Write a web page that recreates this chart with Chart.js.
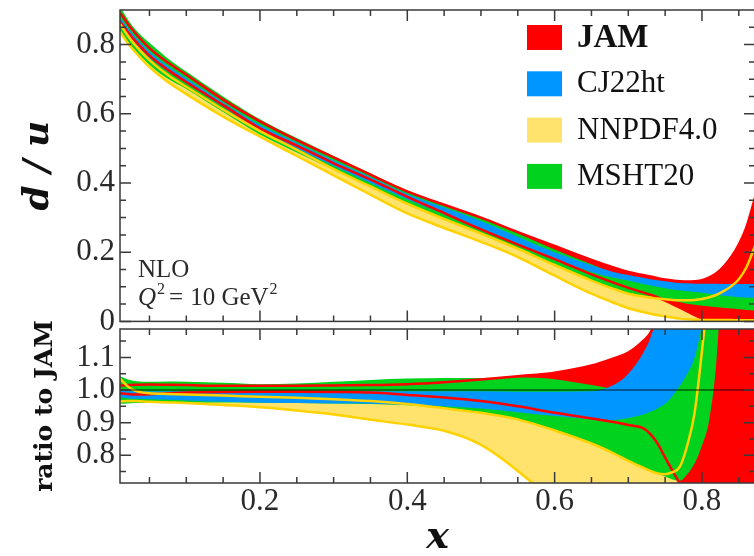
<!DOCTYPE html>
<html>
<head>
<meta charset="utf-8">
<script src="https://cdn.jsdelivr.net/npm/chart.js@4.4.0/dist/chart.umd.min.js"></script>
<style>
  html, body { margin: 0; padding: 0; background: #fff; overflow: hidden; width: 754px; height: 556px; }
  #wrap { position: relative; width: 754px; height: 556px; overflow: hidden; }
  #ratio { position: absolute; left: 0; top: 300px; }
  #main { position: absolute; left: 0; top: -20px; }
</style>
</head>
<body>
<div id="wrap">
  <canvas id="ratio" width="757" height="266"></canvas>
  <canvas id="main" width="757" height="365"></canvas>
</div>
<script>
// x grid shared by all curves
const X = [0.01, 0.02, 0.03, 0.05, 0.075, 0.1, 0.15, 0.2, 0.25, 0.3, 0.35, 0.4, 0.45, 0.5, 0.55, 0.6,
  0.65, 0.68, 0.7, 0.72, 0.73, 0.74, 0.75, 0.76, 0.77, 0.78, 0.79, 0.8, 0.81, 0.82, 0.83, 0.84, 0.85, 0.86, 0.875];

// upper panel: d/u bands (upper / lower edge)
const jamUp = [0.893, 0.862, 0.835, 0.79, 0.748, 0.713, 0.641, 0.578, 0.524, 0.474, 0.424, 0.376, 0.337, 0.3, 0.258, 0.218,
  0.178, 0.156, 0.143, 0.134, 0.13, 0.125, 0.121, 0.118, 0.116, 0.115, 0.116, 0.119, 0.127, 0.14, 0.16, 0.187, 0.222, 0.27, 0.38];
const jamLo = [0.866, 0.838, 0.812, 0.768, 0.727, 0.692, 0.625, 0.558, 0.508, 0.457, 0.41, 0.36, 0.313, 0.266, 0.222, 0.18,
  0.136, 0.112, 0.097, 0.084, 0.077, 0.069, 0.06, 0.05, 0.04, 0.029, 0.018, 0.008, -0.003, -0.015, -0.03, -0.05, -0.07, -0.1, -0.15];
const cjUp = [0.878, 0.85, 0.824, 0.78, 0.738, 0.703, 0.633, 0.568, 0.516, 0.465, 0.417, 0.368, 0.329, 0.29, 0.245, 0.2,
  0.162, 0.143, 0.134, 0.126, 0.122, 0.119, 0.116, 0.113, 0.111, 0.11, 0.109, 0.109, 0.109, 0.109, 0.108, 0.108, 0.108, 0.108, 0.108];
const cjLo = [0.858, 0.83, 0.805, 0.762, 0.722, 0.688, 0.62, 0.553, 0.5, 0.449, 0.4, 0.352, 0.31, 0.268, 0.225, 0.18,
  0.143, 0.126, 0.118, 0.108, 0.104, 0.1, 0.096, 0.092, 0.089, 0.087, 0.085, 0.083, 0.08, 0.077, 0.074, 0.072, 0.07, 0.069, 0.068];
const msUp = [0.91, 0.875, 0.846, 0.805, 0.76, 0.722, 0.65, 0.584, 0.53, 0.478, 0.428, 0.378, 0.339, 0.298, 0.254, 0.208,
  0.165, 0.14, 0.128, 0.118, 0.113, 0.108, 0.104, 0.1, 0.097, 0.094, 0.092, 0.09, 0.089, 0.088, 0.087, 0.086, 0.086, 0.085, 0.085];
const msLo = [0.835, 0.808, 0.785, 0.742, 0.701, 0.672, 0.605, 0.54, 0.488, 0.438, 0.388, 0.339, 0.295, 0.252, 0.208, 0.162,
  0.118, 0.093, 0.08, 0.074, 0.071, 0.068, 0.064, 0.06, 0.055, 0.051, 0.048, 0.045, 0.043, 0.041, 0.039, 0.037, 0.035, 0.033, 0.031];
const nnUp = [0.86, 0.828, 0.8, 0.755, 0.712, 0.678, 0.612, 0.55, 0.496, 0.44, 0.39, 0.34, 0.296, 0.254, 0.21, 0.163,
  0.118, 0.094, 0.08, 0.072, 0.069, 0.066, 0.064, 0.062, 0.061, 0.061, 0.062, 0.065, 0.07, 0.077, 0.088, 0.102, 0.122, 0.155, 0.235];
const nnLo = [0.838, 0.806, 0.78, 0.735, 0.692, 0.657, 0.592, 0.534, 0.478, 0.422, 0.366, 0.312, 0.27, 0.23, 0.186, 0.132,
  0.08, 0.054, 0.038, 0.027, 0.022, 0.018, 0.014, 0.011, 0.008, 0.006, 0.005, 0.004, 0.004, 0.004, 0.004, 0.004, 0.003, 0.003, 0.003];

// lower panel: ratio to JAM (upper / lower edge)
const rJamUp = [1.013, 1.015, 1.016, 1.017, 1.016, 1.015, 1.013, 1.013, 1.013, 1.014, 1.015, 1.018, 1.024, 1.032, 1.042, 1.053,
  1.075, 1.097, 1.115, 1.15, 1.175, 1.23, 1.3, 1.45, 1.6, 1.8, 2.0, 2.3, 2.6, 3.0, 3.4, 4.0, 4.6, 5.5, 7.0];
const rJamLo = [0.99, 0.988, 0.986, 0.987, 0.99, 0.992, 0.994, 0.995, 0.995, 0.994, 0.992, 0.985, 0.977, 0.966, 0.95, 0.93,
  0.913, 0.902, 0.893, 0.883, 0.865, 0.835, 0.793, 0.752, 0.712, 0.66, 0.55, 0.4, 0.2, 0.0, -0.3, -0.6, -1.0, -1.5, -2.0];
const rCjUp = [0.998, 0.997, 0.996, 0.996, 0.996, 0.996, 0.996, 0.996, 0.996, 0.996, 0.996, 0.996, 0.996, 0.996, 0.995, 0.995,
  0.996, 1.015, 1.05, 1.113, 1.16, 1.24, 1.32, 1.45, 1.6, 1.8, 2.0, 2.3, 2.6, 3.0, 3.4, 3.8, 4.2, 4.6, 5.0];
const rCjLo = [0.978, 0.975, 0.973, 0.972, 0.97, 0.968, 0.964, 0.961, 0.96, 0.959, 0.958, 0.955, 0.95, 0.943, 0.932, 0.92,
  0.91, 0.908, 0.914, 0.925, 0.933, 0.944, 0.958, 0.982, 1.013, 1.05, 1.1, 1.2, 1.35, 1.6, 2.0, 2.4, 2.8, 3.2, 4.0];
const rMsUp = [1.042, 1.033, 1.028, 1.025, 1.026, 1.025, 1.022, 1.018, 1.02, 1.025, 1.031, 1.035, 1.037, 1.037, 1.038, 1.033,
  1.015, 1.005, 1.02, 1.06, 1.1, 1.15, 1.22, 1.3, 1.4, 1.55, 1.75, 2.0, 2.3, 2.6, 3.0, 3.3, 3.6, 3.9, 4.2];
const rMsLo = [0.958, 0.959, 0.96, 0.961, 0.962, 0.962, 0.962, 0.961, 0.96, 0.959, 0.957, 0.953, 0.944, 0.93, 0.91, 0.876,
  0.836, 0.806, 0.783, 0.762, 0.752, 0.744, 0.735, 0.726, 0.722, 0.742, 0.775, 0.83, 0.91, 1.1, 1.5, 2.0, 2.4, 2.8, 3.2];
const rNnUp = [1.035, 1.012, 0.998, 0.99, 0.988, 0.986, 0.983, 0.979, 0.976, 0.972, 0.966, 0.957, 0.944, 0.93, 0.91, 0.876,
  0.836, 0.806, 0.783, 0.762, 0.752, 0.744, 0.742, 0.748, 0.765, 0.83, 0.93, 1.12, 1.35, 1.7, 2.1, 2.5, 2.9, 3.3, 3.8];
const rNnLo = [0.965, 0.966, 0.966, 0.964, 0.962, 0.96, 0.954, 0.947, 0.937, 0.925, 0.909, 0.894, 0.875, 0.832, 0.752, 0.65,
  0.5, 0.4, 0.3, 0.2, 0.15, 0.1, 0.05, 0.0, -0.1, -0.2, -0.3, -0.4, -0.5, -0.6, -0.7, -0.8, -0.9, -1.0, -1.2];
const ratioRef = 1.0;

// legend and ticks
const legendLabels = ['JAM', 'CJ22ht', 'NNPDF4.0', 'MSHT20'];
const xTicks = [0.05, 0.1, 0.15, 0.2, 0.25, 0.3, 0.35, 0.4, 0.45, 0.5, 0.55, 0.6, 0.65, 0.7, 0.75, 0.8, 0.85];
const xMajor = [0.2, 0.4, 0.6, 0.8];
const xLabels = ['0.2', '0.4', '0.6', '0.8'];
const yTicks = [0, 0.05, 0.1, 0.15, 0.2, 0.25, 0.3, 0.35, 0.4, 0.45, 0.5, 0.55, 0.6, 0.65, 0.7, 0.75, 0.8, 0.85];
const yMajor = [0, 0.2, 0.4, 0.6, 0.8];
const yLabels = ['0', '0.2', '0.4', '0.6', '0.8'];
const rTicks = [0.75, 0.8, 0.85, 0.9, 0.95, 1.0, 1.05, 1.1, 1.15];
const rMajor = [0.8, 0.9, 1.0, 1.1];
const rLabels = ['0.8', '0.9', '1.0', '1.1'];

const RED = '#ff0000', BLUE = '#0096ff', GREEN = '#00d21e', YEL = '#ffe36c', GOLD = '#ffd200';
const legendColors = [RED, BLUE, YEL, GREEN];
const SERIF = '"Liberation Serif", serif';
const TXT = '#2a2a2a';
const XMIN = 0.01, XMAX = 0.872;

function pts(ys) {
  return X.map((x, i) => ({ x: x, y: ys[i] }));
}
function edge(ys, color, w) {
  return { data: pts(ys), borderColor: color, borderWidth: w, fill: false, pointRadius: 0, clip: 0,
    cubicInterpolationMode: 'monotone' };
}
function band(up, lo, color) {
  return [
    { data: pts(up), borderWidth: 0, borderColor: color, fill: false, pointRadius: 0, clip: 0, cubicInterpolationMode: 'monotone' },
    { data: pts(lo), borderWidth: 0, borderColor: color, backgroundColor: color, fill: '-1', pointRadius: 0, clip: 0,
      cubicInterpolationMode: 'monotone' }
  ];
}
function near(v, arr) {
  return arr.some(a => Math.abs(a - v) < 1e-6);
}

const framePlugin = {
  id: 'frame',
  afterDatasetsDraw(chart, args, opts) {
    const { ctx, chartArea: a, scales } = chart;
    ctx.save();
    ctx.strokeStyle = '#3a3a3a';
    ctx.lineWidth = 1.5;
    ctx.beginPath();
    opts.xTicks.forEach(v => {
      const p = scales.x.getPixelForValue(v);
      const len = near(v, opts.xMajor) ? 11 : 6;
      ctx.moveTo(p, a.top); ctx.lineTo(p, a.top + len);
      ctx.moveTo(p, a.bottom); ctx.lineTo(p, a.bottom - len);
    });
    opts.yTicks.forEach(v => {
      const p = scales.y.getPixelForValue(v);
      const len = near(v, opts.yMajor) ? 11 : 6;
      ctx.moveTo(a.left, p); ctx.lineTo(a.left + len, p);
      ctx.moveTo(a.right, p); ctx.lineTo(a.right - len, p);
    });
    ctx.stroke();
    ctx.strokeRect(a.left, a.top, a.right - a.left, a.bottom - a.top);
    ctx.restore();
  }
};

// legend boxes and the NLO / Q^2 note, placed in page pixels (canvas sits 20px above the page)
const notePlugin = {
  id: 'notes',
  afterDraw(chart) {
    const ctx = chart.ctx;
    const off = 20;
    ctx.save();
    legendLabels.forEach((lab, i) => {
      const y = off + 25 + i * 46.3;
      ctx.fillStyle = legendColors[i];
      ctx.fillRect(527, y, 35, 25);
      ctx.fillStyle = '#111';
      ctx.textBaseline = 'middle';
      ctx.textAlign = 'left';
      ctx.font = (i === 0 ? 'bold 33px ' : '31px ') + SERIF;
      ctx.fillText(lab, 577, y + 13);
    });
    ctx.textBaseline = 'alphabetic';
    ctx.fillStyle = TXT;
    ctx.font = '25px ' + SERIF;
    ctx.fillText('NLO', 138, off + 277);
    let x = 138;
    ctx.font = 'italic 25px ' + SERIF;
    ctx.fillText('Q', x, off + 305);
    x += ctx.measureText('Q').width + 1;
    ctx.font = '16px ' + SERIF;
    ctx.fillText('2', x, off + 294);
    x += ctx.measureText('2').width + 4;
    ctx.font = '25px ' + SERIF;
    ctx.fillText('=', x, off + 305);
    x += ctx.measureText('=').width + 7;
    ctx.fillText('10 GeV', x, off + 305);
    x += ctx.measureText('10 GeV').width + 1;
    ctx.font = '16px ' + SERIF;
    ctx.fillText('2', x, off + 294);
    ctx.restore();
  }
};

function fixTicks(vals) {
  return function (scale) { scale.ticks = vals.map(v => ({ value: v })); };
}
const noGrid = { display: false, drawTicks: false };

// upper panel
const mainSets = [
  edge(nnUp, GOLD, 2.5), edge(nnLo, GOLD, 2.5),
  edge(jamUp, RED, 2.5), edge(jamLo, RED, 2.5),
  ...band(cjUp, cjLo, BLUE),
  ...band(msUp, msLo, GREEN),
  ...band(jamUp, jamLo, RED),
  ...band(nnUp, nnLo, YEL)
];

new Chart(document.getElementById('main'), {
  type: 'line',
  data: { datasets: mainSets },
  options: {
    responsive: false, animation: false, events: [],
    layout: { padding: { top: 30, right: 2, left: 0, bottom: 0 } },
    plugins: { legend: { display: false }, tooltip: { enabled: false },
      frame: { xTicks: xTicks, xMajor: xMajor, yTicks: yTicks, yMajor: yMajor } },
    scales: {
      x: { type: 'linear', min: XMIN, max: XMAX, grid: noGrid, border: { display: false },
        ticks: { display: false }, afterFit: s => { s.height = 22; } },
      y: { min: 0, max: 0.9, grid: noGrid, border: { display: false },
        afterBuildTicks: fixTicks(yMajor),
        ticks: { autoSkip: false, padding: 5, color: TXT, font: { family: SERIF, size: 31 },
          callback: (v, i) => yLabels[i] },
        title: { display: true, text: 'd / u', color: '#111', padding: { top: 17, bottom: 0 },
          font: { family: '"DejaVu Serif", serif', size: 36, weight: 'bold', style: 'italic' } },
        afterFit: s => { s.width = 120; } }
    }
  },
  plugins: [framePlugin, notePlugin]
});

// lower panel: ratio to JAM
const ratioSets = [
  { data: [{ x: XMIN, y: ratioRef }, { x: XMAX, y: ratioRef }], borderColor: 'rgba(0,0,0,0.85)', borderWidth: 1.2,
    pointRadius: 0, fill: false, clip: 0 },
  edge(rNnUp, GOLD, 2.5), edge(rNnLo, GOLD, 2.5),
  edge(rJamUp, RED, 2.5), edge(rJamLo, RED, 2.5),
  ...band(rCjUp, rCjLo, BLUE),
  ...band(rMsUp, rMsLo, GREEN),
  ...band(rJamUp, rJamLo, RED),
  ...band(rNnUp, rNnLo, YEL)
];

new Chart(document.getElementById('ratio'), {
  type: 'line',
  data: { datasets: ratioSets },
  options: {
    responsive: false, animation: false, events: [],
    layout: { padding: { top: 29, right: 2, left: 0, bottom: 0 } },
    plugins: { legend: { display: false }, tooltip: { enabled: false },
      frame: { xTicks: xTicks, xMajor: xMajor, yTicks: rTicks, yMajor: rMajor } },
    scales: {
      x: { type: 'linear', min: XMIN, max: XMAX, grid: noGrid, border: { display: false },
        afterBuildTicks: fixTicks(xMajor),
        ticks: { autoSkip: false, maxRotation: 0, padding: 0, color: TXT, font: { family: SERIF, size: 31 },
          callback: (v, i) => xLabels[i] },
        title: { display: true, text: 'x', color: '#111', padding: { top: 0, bottom: 5 },
          font: { family: '"DejaVu Serif", serif', size: 38, weight: 'bold', style: 'italic' } },
        afterFit: s => { s.height = 83; } },
      y: { min: 0.715, max: 1.187, grid: noGrid, border: { display: false },
        afterBuildTicks: fixTicks(rMajor),
        ticks: { autoSkip: false, padding: 5, color: TXT, font: { family: SERIF, size: 31 },
          callback: (v, i) => rLabels[i] },
        title: { display: true, text: 'ratio to JAM', color: '#111', padding: { top: 30, bottom: 0 },
          font: { family: '"DejaVu Serif", serif', size: 25, weight: 'bold' } },
        afterFit: s => { s.width = 120; } }
    }
  },
  plugins: [framePlugin]
});
</script>
</body>
</html>
